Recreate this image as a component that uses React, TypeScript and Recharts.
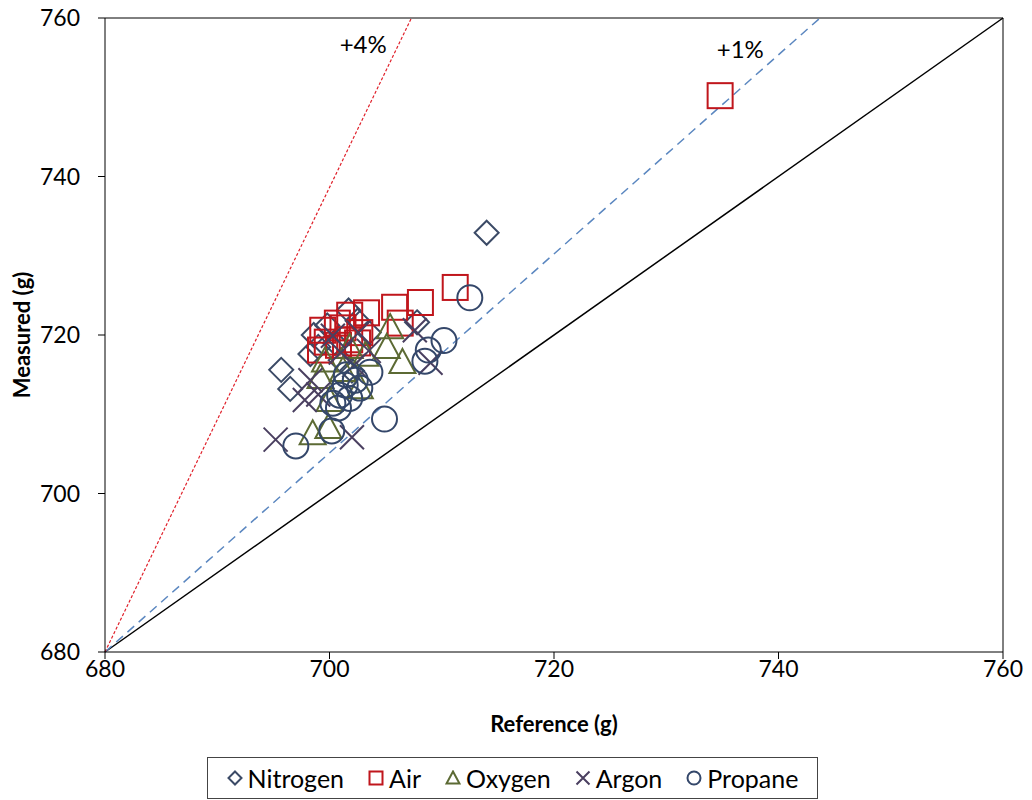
import React from "react";
import {
  ScatterChart,
  Scatter,
  XAxis,
  YAxis,
  ReferenceLine,
  ReferenceDot,
} from "recharts";

// [reference, measured] in grams
const nitrogen = [
  [714.0, 732.9], [695.7, 715.6], [696.5, 713.2], [698.6, 720.0], [698.3, 717.6],
  [699.0, 718.5], [701.7, 723.1], [702.5, 721.8], [703.5, 720.3], [707.8, 721.6],
  [700.5, 719.0], [701.0, 716.8], [702.0, 715.5], [699.8, 721.2],
];
const air = [
  [734.8, 750.2], [711.2, 726.0], [708.1, 724.1], [705.8, 723.5], [703.3, 722.8],
  [701.8, 722.5], [700.7, 721.5], [699.4, 720.6], [702.7, 720.3], [701.2, 720.9],
  [699.8, 719.1], [699.2, 718.1], [702.5, 719.0], [701.8, 719.4], [706.3, 721.5],
  [700.8, 718.7],
];
const oxygen = [
  [705.4, 721.0], [705.1, 718.5], [706.5, 716.6], [698.5, 707.6], [699.9, 708.4],
  [701.8, 718.5], [699.2, 714.7], [702.7, 713.4], [700.0, 711.8], [701.2, 715.6],
  [699.6, 716.8], [703.2, 717.5],
];
const argon = [
  [695.2, 706.8], [702.0, 707.1], [698.3, 714.3], [697.8, 711.8], [707.6, 720.6],
  [709.0, 716.5], [701.0, 717.8], [700.3, 719.9], [702.2, 716.2], [702.6, 720.3],
  [699.0, 712.5], [703.5, 718.0],
];
const propane = [
  [712.5, 724.7], [710.2, 719.3], [708.8, 718.1], [708.5, 716.7], [704.9, 709.4],
  [697.0, 706.0], [700.2, 707.9], [700.3, 711.4], [703.6, 715.3], [701.4, 713.7],
  [702.3, 714.3], [700.9, 712.4], [701.8, 712.0], [702.7, 713.3], [700.8, 710.8],
  [701.5, 715.0],
];

const axisTicks = [680, 700, 720, 740, 760];
const parityLine = [[680, 680], [760, 760]];
const onePctLine = [[680, 680], [743.7, 760]];
const fourPctLine = [[680, 680], [707.3, 760]];
const lineLabels = [
  { text: "+4%", x: 703.0, y: 756.6 },
  { text: "+1%", x: 736.6, y: 756.0 },
];

const FONT = "Lato, 'Open Sans', sans-serif";

const toPoints = (arr: number[][]) => arr.map(([x, y]) => ({ x, y }));

type Kind = "diamond" | "square" | "triangle" | "cross" | "circle";

function Marker({ kind, cx, cy, color, s }: { kind: Kind; cx: number; cy: number; color: string; s: number }) {
  const p = { fill: "none", stroke: color, strokeWidth: 2 };
  if (kind === "diamond")
    return <path d={`M${cx},${cy - s} L${cx + s},${cy} L${cx},${cy + s} L${cx - s},${cy} Z`} {...p} />;
  if (kind === "square")
    return <rect x={cx - s} y={cy - s} width={2 * s} height={2 * s} {...p} />;
  if (kind === "triangle")
    return <path d={`M${cx},${cy - s} L${cx + s},${cy + s * 0.85} L${cx - s},${cy + s * 0.85} Z`} {...p} />;
  if (kind === "cross")
    return (
      <path d={`M${cx - s},${cy - s} L${cx + s},${cy + s} M${cx + s},${cy - s} L${cx - s},${cy + s}`} {...p} />
    );
  return <circle cx={cx} cy={cy} r={s} {...p} />;
}

const series: { name: string; data: number[][]; kind: Kind; color: string; size: number }[] = [
  { name: "Nitrogen", data: nitrogen, kind: "diamond", color: "#3b4a66", size: 12 },
  { name: "Air", data: air, kind: "square", color: "#c0161c", size: 12.5 },
  { name: "Oxygen", data: oxygen, kind: "triangle", color: "#5c6a34", size: 13 },
  { name: "Argon", data: argon, kind: "cross", color: "#4a3f60", size: 12 },
  { name: "Propane", data: propane, kind: "circle", color: "#34476a", size: 12.5 },
];

function LegendBox() {
  return (
    <div
      style={{
        position: "absolute",
        left: 207,
        top: 757,
        width: 611,
        height: 42,
        border: "1.5px solid #444",
        boxSizing: "border-box",
        display: "flex",
        alignItems: "center",
        justifyContent: "center",
        gap: 24,
        fontFamily: FONT,
        fontSize: 25,
        color: "#000",
      }}
    >
      {series.map((s) => (
        <div key={s.name} style={{ display: "flex", alignItems: "center", gap: 5 }}>
          <svg width={16} height={16}>
            <Marker kind={s.kind} cx={8} cy={8} color={s.color} s={6.5} />
          </svg>
          <span>{s.name}</span>
        </div>
      ))}
    </div>
  );
}

export default function App() {
  return (
    <div style={{ position: "absolute", left: 0, top: 0, width: 1032, height: 800, background: "#fff" }}>
      <ScatterChart width={1032} height={800} margin={{ top: 18, right: 29, bottom: 58, left: 0 }}>
        <XAxis
          type="number"
          dataKey="x"
          domain={[680, 760]}
          ticks={axisTicks}
          allowDataOverflow
          stroke="#000"
          tickSize={7}
          tickMargin={2}
          height={90}
          tick={{ fill: "#000", fontSize: 23, fontFamily: FONT }}
          label={{
            value: "Reference (g)",
            position: "insideBottom",
            offset: 10,
            style: { fontWeight: 700, fontSize: 22, fontFamily: FONT, fill: "#000" },
          }}
        />
        <YAxis
          type="number"
          dataKey="y"
          domain={[680, 760]}
          ticks={axisTicks}
          allowDataOverflow
          stroke="#000"
          tickSize={7}
          tickMargin={18}
          width={105}
          tick={{ fill: "#000", fontSize: 23, fontFamily: FONT }}
          label={{
            value: "Measured (g)",
            angle: -90,
            position: "insideLeft",
            offset: 22,
            style: { textAnchor: "middle", fontWeight: 700, fontSize: 22, fontFamily: FONT, fill: "#000" },
          }}
        />
        <ReferenceLine y={760} stroke="#000" strokeWidth={1} />
        <ReferenceLine x={760} stroke="#000" strokeWidth={1} />
        <ReferenceLine segment={toPoints(parityLine)} stroke="#000" strokeWidth={1.5} />
        <ReferenceLine segment={toPoints(onePctLine)} stroke="#5b87c0" strokeWidth={1.5} strokeDasharray="9 6" />
        <ReferenceLine segment={toPoints(fourPctLine)} stroke="#e0202a" strokeWidth={1.2} strokeDasharray="3 2" />
        {lineLabels.map((l) => (
          <ReferenceDot
            key={l.text}
            x={l.x}
            y={l.y}
            r={0}
            stroke="none"
            label={{ value: l.text, position: "center", fontSize: 24, fontFamily: FONT, fill: "#000" }}
          />
        ))}
        {series.map((s) => (
          <Scatter
            key={s.name}
            name={s.name}
            data={toPoints(s.data)}
            isAnimationActive={false}
            shape={(props: any) => (
              <Marker kind={s.kind} cx={props.cx} cy={props.cy} color={s.color} s={s.size} />
            )}
          />
        ))}
      </ScatterChart>
      <LegendBox />
    </div>
  );
}
